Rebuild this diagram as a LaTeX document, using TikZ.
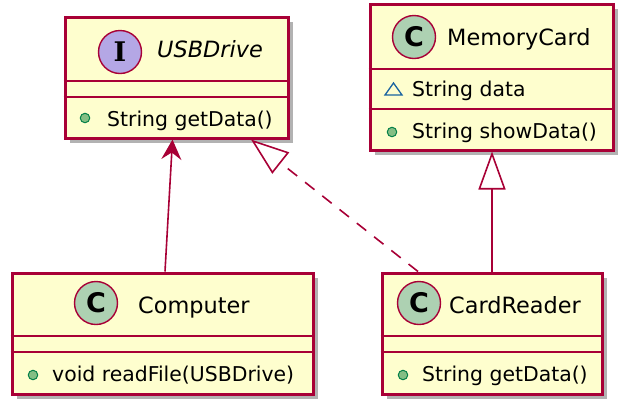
\documentclass[tikz,border=0pt]{standalone}
\usepackage{fontspec}
\setmainfont{DejaVu Sans}
\newfontfamily\spotserif{DejaVu Serif}
\usetikzlibrary{positioning,arrows.meta,shadows}
\definecolor{umlred}{HTML}{A80036}
\definecolor{umlfill}{HTML}{FEFECE}
\definecolor{spotC}{HTML}{ADD1B2}
\definecolor{spotI}{HTML}{B4A7E5}
\definecolor{pubfill}{HTML}{84BE84}
\definecolor{publine}{HTML}{038048}
\definecolor{pkgline}{HTML}{1963A0}

\begin{document}
\begin{tikzpicture}[x=1pt, y=-1pt,
	cls/.style={draw=umlred, fill=umlfill, line width=3pt, inner sep=0pt,
		drop shadow={shadow xshift=5pt, shadow yshift=-5pt, opacity=.3, fill=black}},
	sep/.style={draw=umlred, line width=2.5pt},
	spot/.style={draw=umlred, line width=1.4pt, circle, minimum size=43pt, inner sep=0pt,
		font=\fontsize{27}{30}\selectfont\bfseries},
	title/.style={anchor=base west, inner sep=0pt, font=\fontsize{22.4}{26}\selectfont},
	member/.style={anchor=base west, inner sep=0pt, font=\fontsize{20.4}{24}\selectfont},
	pub/.style={draw=publine, fill=pubfill, line width=1pt, circle, minimum size=9.5pt, inner sep=0pt},
	assoc/.style={umlred, line width=1.6pt, -{Stealth[length=20pt, width=20pt, inset=7pt]}},
	realize/.style={umlred, line width=1.6pt, dash pattern=on 12pt off 10pt,
		-{Triangle[open, length=38pt, width=27pt, fill=white]}},
	generalize/.style={umlred, line width=1.6pt, -{Triangle[open, length=38pt, width=27pt, fill=white]}}]
	\useasboundingbox (0,0) rectangle (634,416);

	% boxes
	\node[cls, minimum width=223pt, minimum height=121pt] (usb) at (176.5,77.5) {};
	\node[cls, minimum width=243pt, minimum height=146pt] (mem) at (491.5,77) {};
	\node[cls, minimum width=301pt, minimum height=121pt] (comp) at (162.5,333.5) {};
	\node[cls, minimum width=220pt, minimum height=121pt] (cr) at (492,333.5) {};

	% compartments
	\draw[sep] (usb.west |- 0,81) -- (usb.east |- 0,81);
	\draw[sep] (usb.west |- 0,97) -- (usb.east |- 0,97);
	\draw[sep] (mem.west |- 0,69) -- (mem.east |- 0,69);
	\draw[sep] (mem.west |- 0,109) -- (mem.east |- 0,109);
	\draw[sep] (comp.west |- 0,336) -- (comp.east |- 0,336);
	\draw[sep] (comp.west |- 0,352) -- (comp.east |- 0,352);
	\draw[sep] (cr.west |- 0,336) -- (cr.east |- 0,336);
	\draw[sep] (cr.west |- 0,352) -- (cr.east |- 0,352);

	% headers
	\node[spot, fill=spotI] (usbSpot) at (120,52) {\spotserif\bfseries I};
	\node[title] (usbName) at (157,57) {\itshape USBDrive};
	\node[spot, fill=spotC] (memSpot) at (414,37) {C};
	\node[title] (memName) at (447,45) {MemoryCard};
	\node[spot, fill=spotC] (compSpot) at (96,303) {C};
	\node[title] (compName) at (138,313) {Computer};
	\node[spot, fill=spotC] (crSpot) at (419,303) {C};
	\node[title] (crName) at (449,313) {CardReader};

	% members
	\node[pub] (usbDot) at (85,118) {};
	\node[member] (usbOp) at (107,126) {String getData()};
	\draw[pkgline, line width=1.3pt] (393.5,83) -- (402,95) -- (385,95) -- cycle;
	\node[member] (memAttr) at (412,96.5) {String data};
	\node[pub] (memDot) at (392,132) {};
	\node[member] (memOp) at (412,138) {String showData()};
	\node[pub] (compDot) at (33,375) {};
	\node[member] (compOp) at (52,381.5) {void readFile(USBDrive)};
	\node[pub] (crDot) at (403,375) {};
	\node[member] (crOp) at (422,381.5) {String getData()};

	% relations
	\draw[assoc] ([xshift=2.5pt]comp.north) -- ([xshift=-4pt]usb.south);
	\draw[realize] ([xshift=-74pt]cr.north) -- ([xshift=74.5pt]usb.south);
	\draw[generalize] (cr.north) -- (cr.north |- mem.south);
\end{tikzpicture}
\end{document}
